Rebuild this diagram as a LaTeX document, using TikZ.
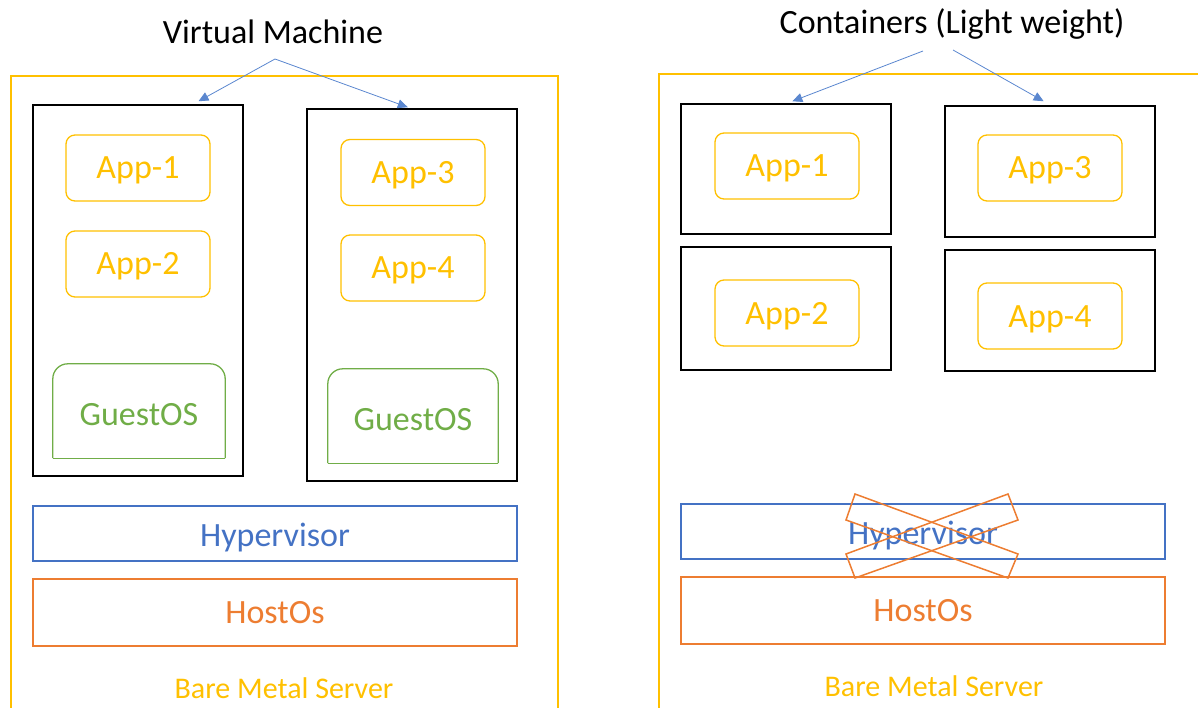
\documentclass[tikz,border=0pt]{standalone}
\usepackage{fontspec}
\setmainfont{Carlito}
\usetikzlibrary{arrows.meta,calc}
\definecolor{goldc}{HTML}{FFC000}
\definecolor{orangec}{HTML}{ED7D31}
\definecolor{bluec}{HTML}{4472C4}
\definecolor{greenc}{HTML}{70AD47}
\definecolor{arrowc}{HTML}{5B87CF}
\tikzset{
  bigtext/.style={font=\fontsize{34}{40}\selectfont, text height=22pt, text depth=0pt},
  frame/.style={draw=goldc, line width=1.3pt},
  vmbox/.style={draw=black, line width=1.5pt, inner sep=0pt},
  appbox/.style={bigtext, draw=goldc, line width=1.3pt, rounded corners=9pt, minimum width=144pt, minimum height=66pt, text=goldc, inner sep=0pt},
  guestbox/.style={bigtext, text height=29pt, minimum width=172pt, minimum height=94pt, text=greenc, inner sep=0pt},
  guestline/.style={draw=greenc, line width=1.3pt},
  hyperbox/.style={bigtext, text height=26pt, draw=bluec, line width=1.3pt, minimum width=484pt, minimum height=55pt, text=bluec, inner sep=0pt},
  hostbox/.style={bigtext, draw=orangec, line width=1.3pt, minimum width=484pt, minimum height=67pt, text=orangec, inner sep=0pt},
  title/.style={bigtext, text=black, inner sep=0pt},
  baremetal/.style={font=\fontsize{30}{36}\selectfont, text height=19.5pt, text depth=0pt, inner sep=0pt, text=goldc},
  pointer/.style={draw=arrowc, line width=0.8pt, -{Triangle[length=10pt,width=9pt]}},
  crossbar/.style={draw=orangec, line width=1.5pt}
}
\begin{document}
\begin{tikzpicture}[x=1pt,y=-1pt]
\useasboundingbox (0,0) rectangle (1198,708);

% server frames (open at the bottom)
\draw[frame] (11,708) -- (11,76) -- (558,76) -- (558,708);
\draw[frame] (659,708) -- (659,74) -- (1200,74);

% ---------- virtual machines ----------
\node[title] (vmtitle) at (273,32.5) {Virtual Machine};
\coordinate (vmsplit) at (275,59);

\node[vmbox, minimum width=210pt, minimum height=371pt] (vm1) at (138,290.5) {};
\node[vmbox, minimum width=210pt, minimum height=372pt] (vm2) at (412,295) {};

\node[appbox] (a1) at (138,168) {App-1};
\node[appbox] (a2) at (138,264) {App-2};
\node[appbox] (a3) at (413,172.5) {App-3};
\node[appbox] (a4) at (413,268) {App-4};

\node[guestbox] (g1) at (139,411) {GuestOS};
\node[guestbox, minimum width=170pt] (g2) at (413,416) {GuestOS};
\foreach \g in {g1,g2}{
  \draw[guestline, rounded corners=15pt] (\g.south west) -- (\g.north west) -- (\g.north east) -- (\g.south east);
  \draw[guestline] (\g.south west) -- (\g.south east);
}

\node[hyperbox] (hv1) at (275,533.5) {Hypervisor};
\node[hostbox] (ho1) at (275,612.5) {HostOs};
\node[baremetal] (bm1) at (284,688.5) {Bare Metal Server};

\draw[pointer] (vmsplit) -- ($(vm1.north west)!0.786!(vm1.north east)+(0,-3)$);
\draw[pointer] (vmsplit) -- ($(vm2.north west)!0.48!(vm2.north east)+(0,-1)$);

% ---------- containers ----------
\node[title] (cttitle) at (952,22.5) {Containers (Light weight)};
\coordinate (ctleft) at (923,51);
\coordinate (ctright) at (953,50);

\node[vmbox, minimum width=210pt, minimum height=130pt] (c1) at (786,169) {};
\node[vmbox, minimum width=210pt, minimum height=131pt] (c2) at (1050,171.5) {};
\node[vmbox, minimum width=210pt, minimum height=123pt] (c3) at (786,308.5) {};
\node[vmbox, minimum width=210pt, minimum height=121pt] (c4) at (1050,310.5) {};

\node[appbox] (b1) at (787,166) {App-1};
\node[appbox] (b3) at (1050,168) {App-3};
\node[appbox] (b2) at (787,313) {App-2};
\node[appbox] (b4) at (1050,316) {App-4};

\node[hyperbox] (hv2) at (923,531.5) {Hypervisor};
\node[hostbox] (ho2) at (923,610.5) {HostOs};
\node[baremetal] (bm2) at (934,687) {Bare Metal Server};

\draw[pointer] (ctleft) -- ($(c1.north west)!0.53!(c1.north east)+(0,-2)$);
\draw[pointer] (ctright) -- ($(c2.north west)!0.47!(c2.north east)+(0,-4)$);

% crossed-out hypervisor
\draw[crossbar] (846,520) -- (855,494) -- (1018,554) -- (1008,578) -- cycle;
\draw[crossbar] (846,554) -- (855,578) -- (1018,520) -- (1008,494) -- cycle;
\end{tikzpicture}
\end{document}
